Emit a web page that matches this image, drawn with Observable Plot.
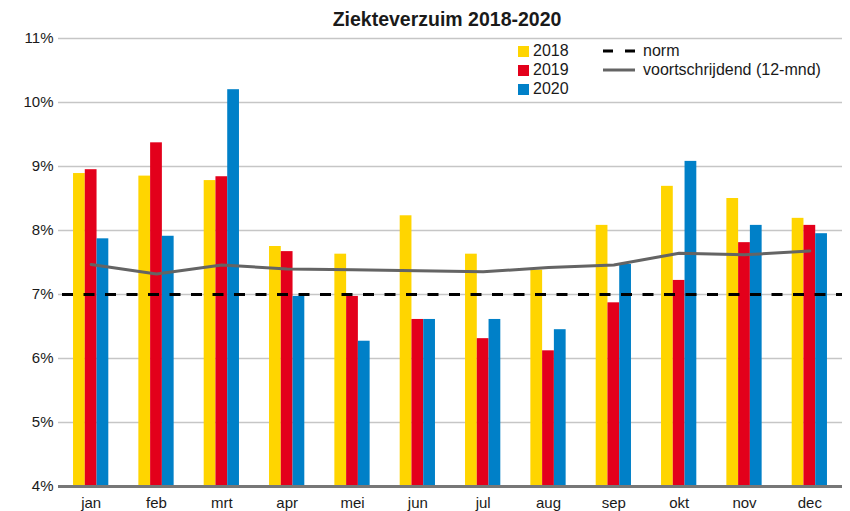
<!DOCTYPE html>
<html>
<head>
<meta charset="utf-8">
<script src="https://cdn.jsdelivr.net/npm/d3@7"></script>
<script src="https://cdn.jsdelivr.net/npm/@observablehq/plot@0.6"></script>
<style>
  body { margin: 0; background: white; }
  #wrap { position: relative; width: 850px; height: 511px; font-family: "Liberation Sans", Arial, Helvetica, sans-serif; color: #1a1a1a; }
  #title { position: absolute; top: 7px; left: 447px; transform: translateX(-50%); font-size: 19.5px; font-weight: bold; line-height: 24px; white-space: nowrap; }
  .lg { position: absolute; font-size: 16px; line-height: 18px; white-space: nowrap; display: flex; align-items: center; }
  .sw { width: 11px; height: 11px; margin-right: 4px; }
</style>
</head>
<body>
<div id="wrap">
  <div id="chart"></div>
  <div id="title">Ziekteverzuim 2018-2020</div>
  <div id="legend"></div>
</div>
<script>
const months = ["jan","feb","mrt","apr","mei","jun","jul","aug","sep","okt","nov","dec"];
const years = ["2018","2019","2020"];
const v2018 = [8.89, 8.85, 8.78, 7.75, 7.63, 8.23, 7.63, 7.38, 8.08, 8.69, 8.50, 8.19];
const v2019 = [8.95, 9.37, 8.84, 7.67, 6.97, 6.61, 6.31, 6.12, 6.87, 7.22, 7.81, 8.08];
const v2020 = [7.87, 7.91, 10.20, 6.97, 6.27, 6.61, 6.61, 6.45, 7.47, 9.08, 8.08, 7.95];
const rolling = [7.47, 7.32, 7.46, 7.40, 7.385, 7.37, 7.355, 7.42, 7.46, 7.645, 7.62, 7.68];
const norm = 7;
const yTicks = [4, 5, 6, 7, 8, 9, 10, 11];
const colors = ["#FFD500", "#E3001B", "#0080C8"];
const lineColor = "#646464";
const seriesLabels = ["norm", "voortschrijdend (12-mnd)"];

const series = [v2018, v2019, v2020];
const rows = [];
years.forEach((y, i) => months.forEach((m, j) => rows.push({month: m, year: y, value: series[i][j]})));
const rollRows = months.map((m, j) => ({month: m, value: rolling[j]}));

const base = {
  width: 850, height: 511,
  marginTop: 38, marginBottom: 25, marginLeft: 58, marginRight: 8,
  style: {fontFamily: "'Liberation Sans', Arial, sans-serif", fontSize: "15px", color: "#1a1a1a", background: "white", overflow: "visible"},
  x: {type: "band", domain: months, paddingInner: 0.46, paddingOuter: 0.23, round: false, tickSize: 0, tickPadding: 11, label: null},
  y: {domain: [4, 11], ticks: yTicks, tickFormat: d => d + "%", tickSize: 0, tickPadding: 5, label: null}
};

// derive bandwidth from the library's own band scale
const probe = Plot.plot({...base, marks: [Plot.ruleY([4])]});
const bw = probe.scale("x").bandwidth;

const marks = [
  Plot.ruleY(yTicks.slice(1), {stroke: "#c6c6c6", strokeWidth: 1.5})
];
years.forEach((y, i) => {
  marks.push(Plot.barY(rows.filter(r => r.year === y), {
    x: "month", y1: 4, y2: "value", fill: colors[i],
    insetLeft: i * bw / 3, insetRight: (2 - i) * bw / 3
  }));
});
marks.push(Plot.ruleY([4], {stroke: "#777", strokeWidth: 3}));
marks.push(Plot.ruleY([norm], {stroke: "#000", strokeWidth: 3, strokeDasharray: "11,10.5", strokeDashoffset: -4}));
marks.push(Plot.line(rollRows, {x: "month", y: "value", stroke: lineColor, strokeWidth: 3}));

const chart = Plot.plot({...base, marks});
document.getElementById("chart").appendChild(chart);

// legend
const legend = document.getElementById("legend");
const rowsY = [51, 70, 89];
years.forEach((y, i) => {
  const d = document.createElement("div");
  d.className = "lg";
  d.style.left = "518px";
  d.style.top = (rowsY[i] - 9) + "px";
  d.innerHTML = `<div class="sw" style="background:${colors[i]}"></div><span>${y}</span>`;
  legend.appendChild(d);
});
const lineItems = [
  {label: seriesLabels[0], stroke: "#000", dash: "10,12"},
  {label: seriesLabels[1], stroke: lineColor, dash: null}
];
lineItems.forEach((it, i) => {
  const d = document.createElement("div");
  d.className = "lg";
  d.style.left = "603px";
  d.style.top = (rowsY[i] - 9) + "px";
  d.innerHTML = `<svg width="32" height="6" style="margin-right:8px"><line x1="0" x2="32" y1="3" y2="3" stroke="${it.stroke}" stroke-width="3" ${it.dash ? `stroke-dasharray="${it.dash}"` : ""}/></svg><span>${it.label}</span>`;
  legend.appendChild(d);
});
</script>
</body>
</html>
